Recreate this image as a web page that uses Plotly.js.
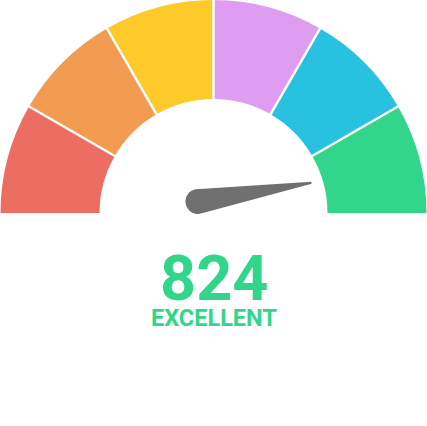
<!DOCTYPE html>
<html>
<head>
<meta charset="utf-8">
<script src="https://cdn.plot.ly/plotly-3.0.1.min.js"></script>
<style>html,body{margin:0;padding:0;background:#fff;}#chart{width:427px;height:426px;}</style>
</head>
<body>
<div id="chart"></div>
<script>
// ---- data ----
const bandLabels = ["Very Poor", "Poor", "Fair", "Good", "Very Good", "Excellent"];
const bandSizes = [1, 1, 1, 1, 1, 1];
const bandColors = ["#EC6E62", "#F39B50", "#FDCA2A", "#DF9DF2", "#29C1E0", "#32D68A"];
const gaugeRange = [350, 850];
const scoreValue = [824];
const scoreLabel = ["EXCELLENT"];

// ---- build ----
const W = 427, H = 426;
const totalBands = bandSizes.reduce((a, b) => a + b, 0);
const values = bandSizes.concat([totalBands]);
const colors = bandColors.concat(["rgba(0,0,0,0)"]);
const labels = bandLabels.concat(["hidden"]);

const pie = {
  type: "pie",
  values: values,
  labels: labels,
  sort: false,
  direction: "clockwise",
  rotation: -90,
  hole: 0.535,
  textinfo: "none",
  hoverinfo: "none",
  marker: { colors: colors, line: { width: 0 } },
  domain: { x: [0, 1], y: [0, 1] },
  showlegend: false
};

const toPaper = p => (p[0] / W).toFixed(5) + "," + (1 - p[1] / H).toFixed(5);

// separators between bands
const gcx = W / 2, gcy = H / 2, R = Math.min(W, H) / 2, Rin = R * 0.535;
const shapes = [];
let cum = 0;
for (let i = 0; i < bandSizes.length - 1; i++) {
  cum += bandSizes[i];
  const a = Math.PI * (1 - cum / totalBands);
  const p1 = [gcx + (Rin - 2) * Math.cos(a), gcy - (Rin - 2) * Math.sin(a)];
  const p2 = [gcx + (R + 2) * Math.cos(a), gcy - (R + 2) * Math.sin(a)];
  shapes.push({ type: "path", xref: "paper", yref: "paper",
    path: "M" + toPaper(p1) + " L" + toPaper(p2),
    line: { color: "#ffffff", width: 2.5 } });
}

// needle
const frac = (scoreValue[0] - gaugeRange[0]) / (gaugeRange[1] - gaugeRange[0]);
const ang = Math.PI * (1 - frac);
const cx = 198, cy = 201.5, r = 12.5, L = 115;
const tip = [cx + L * Math.cos(ang), cy - L * Math.sin(ang)];
const dirx = Math.cos(ang), diry = -Math.sin(ang);
const px = -diry, py = dirx;
const pts = [];
const tipW = 1.0;
pts.push([tip[0] + px * tipW, tip[1] + py * tipW]);
for (let i = 0; i <= 32; i++) {
  const t = Math.PI / 2 + (Math.PI * i) / 32;
  const vx = Math.cos(t) * dirx - Math.sin(t) * diry;
  const vy = Math.cos(t) * diry + Math.sin(t) * dirx;
  pts.push([cx + r * vx, cy + r * vy]);
}
pts.push([tip[0] - px * tipW, tip[1] - py * tipW]);
shapes.push({ type: "path", xref: "paper", yref: "paper",
  path: "M" + pts.map(toPaper).join(" L") + " Z",
  fillcolor: "#707070", line: { width: 0 } });

const layout = {
  width: W, height: H,
  margin: { l: 0, r: 0, t: 0, b: 0, pad: 0 },
  paper_bgcolor: "#ffffff",
  plot_bgcolor: "#ffffff",
  showlegend: false,
  shapes: shapes,
  annotations: [
    { text: String(scoreValue[0]), x: 0.5, y: 1 - 278 / H, xref: "paper", yref: "paper",
      showarrow: false, xanchor: "center", yanchor: "middle", height: 56, borderpad: 0,
      font: { family: "Roboto", size: 63, color: "#32D68A", weight: 700 } },
    { text: scoreLabel[0], x: 0.5, y: 1 - 318 / H, xref: "paper", yref: "paper",
      showarrow: false, xanchor: "center", yanchor: "middle", height: 22, borderpad: 0,
      font: { family: "Roboto", size: 23.5, color: "#32D68A", weight: 700 } }
  ]
};

Plotly.newPlot("chart", [pie], layout, { staticPlot: true, displayModeBar: false });
</script>
</body>
</html>
